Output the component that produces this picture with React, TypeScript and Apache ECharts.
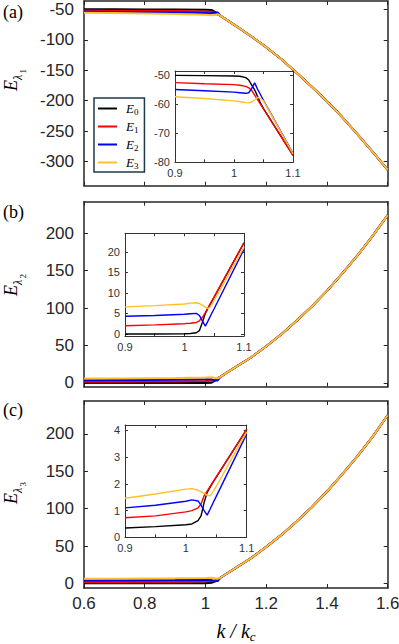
import React, { useEffect, useRef } from 'react';
import * as echarts from 'echarts';

// ---------- data ----------
const seriesNames = ['E0', 'E1', 'E2', 'E3'];
const seriesColors = ['#000000', '#ff0000', '#0000ff', '#ffc125'];

// main panels: flat part (per series) + common branch after k ~ 1.05
const kHead = [0.6, 0.7, 0.8, 0.9, 1.0, 1.02, 1.03, 1.04];
const kTail = [1.05, 1.1, 1.15, 1.2, 1.25, 1.3, 1.35, 1.4, 1.45, 1.5, 1.55, 1.6];

const aHeadE0 = [-49.4, -49.6, -49.8, -50.0, -50.25, -50.8, -53.4, -57.3];
const aHeadE1 = [-51.6, -51.9, -52.2, -52.5, -53.2, -53.8, -55.2, -58.4];
const aHeadE2 = [-53.4, -53.9, -54.4, -54.9, -55.8, -56.2, -54.5, -54.8];
const aHeadE3 = [-55.2, -55.9, -56.6, -57.4, -58.8, -59.4, -59.2, -57.6];
const aTail = [-60.5, -77, -94, -112, -132, -154, -177, -201, -227, -255, -284, -314];

const bHeadE0 = [0.0, 0.0, 0.0, 0.0, 0.05, 0.3, 2.8, 6.4];
const bHeadE1 = [1.5, 1.7, 1.85, 2.0, 2.5, 2.8, 4.0, 6.5];
const bHeadE2 = [3.7, 3.9, 4.1, 4.3, 4.8, 5.0, 3.2, 3.3];
const bHeadE3 = [5.9, 6.1, 6.4, 6.6, 7.3, 7.6, 7.0, 6.2];
const bTail = [8.5, 21.5, 34, 49, 65, 83, 102, 123, 146, 170, 196, 224];

const cHeadE0 = [0.3, 0.3, 0.4, 0.4, 0.5, 0.9, 2.5, 5.0];
const cHeadE1 = [1.9, 2.1, 2.3, 2.5, 2.9, 3.2, 4.2, 6.0];
const cHeadE2 = [4.1, 4.3, 4.5, 4.7, 5.1, 4.6, 3.0, 3.4];
const cHeadE3 = [6.3, 6.5, 6.7, 6.9, 7.4, 7.6, 7.1, 6.4];
const cTail = [8.0, 21, 34, 49, 65, 83, 102, 123, 146, 170, 196, 225];

// insets (zoom 0.9 .. 1.1)
const kInset = [0.9, 0.95, 1.0, 1.01, 1.02, 1.025, 1.03, 1.035, 1.04, 1.045, 1.05, 1.1];

const insAE0 = [-50.0, -50.1, -50.25, -50.3, -50.8, -51.6, -53.4, -55.0, -57.3, -59.6, -61.5, -77.6];
const insAE1 = [-52.5, -52.9, -53.2, -53.4, -53.8, -54.3, -55.2, -56.8, -58.4, -60.0, -61.6, -77.6];
const insAE2 = [-54.9, -55.3, -55.8, -56.0, -56.2, -56.0, -54.5, -52.6, -54.8, -56.7, -58.6, -76.9];
const insAE3 = [-57.4, -58.0, -58.8, -59.1, -59.4, -59.5, -59.2, -58.5, -57.6, -58.0, -58.8, -77.1];

const insBE0 = [0.0, 0.0, 0.05, 0.1, 0.3, 0.8, 2.8, 5.0, 6.4, 7.7, 9.0, 22.2];
const insBE1 = [2.0, 2.2, 2.5, 2.6, 2.8, 3.2, 4.0, 5.2, 6.5, 7.8, 9.1, 22.2];
const insBE2 = [4.3, 4.5, 4.8, 4.9, 5.0, 4.5, 3.2, 1.9, 3.3, 4.8, 6.2, 20.6];
const insBE3 = [6.6, 6.9, 7.3, 7.5, 7.6, 7.4, 7.0, 6.5, 6.2, 6.8, 8.2, 21.1];

const insCE0 = [0.35, 0.40, 0.47, 0.50, 0.62, 0.8, 1.3, 1.68, 1.88, 2.07, 2.25, 4.04];
const insCE1 = [0.73, 0.8, 0.95, 1.0, 1.1, 1.25, 1.55, 1.73, 1.9, 2.08, 2.26, 4.04];
const insCE2 = [1.1, 1.2, 1.35, 1.4, 1.36, 1.2, 1.0, 0.83, 1.06, 1.3, 1.53, 3.87];
const insCE3 = [1.46, 1.62, 1.8, 1.82, 1.76, 1.7, 1.65, 1.57, 1.55, 1.72, 1.9, 3.94];

// tick values
const mainXTicks = [0.6, 0.8, 1, 1.2, 1.4, 1.6];
const aYTicks = [-300, -250, -200, -150, -100, -50];
const bcYTicks = [0, 50, 100, 150, 200];
const insetXTicks = [0.9, 0.95, 1, 1.05, 1.1];
const insetXLabels = [0.9, 1, 1.1];
const insAYTicks = [-80, -70, -60, -50];
const insBYTicks = [0, 5, 10, 15, 20];
const insCYTicks = [0, 1, 2, 3, 4];

// ---------- helpers ----------
const pairs = (ks: number[], vs: number[]) => ks.map((k, i) => [k, vs[i]]);

type Panel = {
  rect: { left: number; top: number; width: number; height: number };
  xMin: number; xMax: number; xTicks: number[]; xLabels: number[] | null;
  yMin: number; yMax: number; yTicks: number[];
  font: number; lineW: number; tickLen: number; z: number;
  xMargin: number; yMargin: number; axisColor: string;
  data: number[][][];
  lineWidth: number;
};

const SANS = "'Liberation Sans', Arial, Helvetica, sans-serif";
const SERIF = "'Liberation Serif', 'Times New Roman', serif";

export default function App() {
  const ref = useRef<HTMLDivElement>(null);

  useEffect(() => {
    document.body.style.margin = '0';
    if (!ref.current) return;
    const chart = echarts.init(ref.current, null, { renderer: 'svg' });

    const mainHeads = [
      [aHeadE0, aHeadE1, aHeadE2, aHeadE3],
      [bHeadE0, bHeadE1, bHeadE2, bHeadE3],
      [cHeadE0, cHeadE1, cHeadE2, cHeadE3],
    ];
    const mainTails = [aTail, bTail, cTail];
    const mainData = mainHeads.map((heads, p) =>
      heads.map((h) => pairs(kHead, h).concat(pairs(kTail, mainTails[p])))
    );
    const insetData = [
      [insAE0, insAE1, insAE2, insAE3],
      [insBE0, insBE1, insBE2, insBE3],
      [insCE0, insCE1, insCE2, insCE3],
    ].map((arr) => arr.map((v) => pairs(kInset, v)));

    const mainBase = {
      xMin: 0.6, xMax: 1.6, xTicks: mainXTicks,
      font: 17, lineW: 1.5, tickLen: 4, z: 0, xMargin: 7, yMargin: 10,
      axisColor: '#262626', lineWidth: 2,
    };
    const insetBase = {
      xMin: 0.9, xMax: 1.1, xTicks: insetXTicks, xLabels: insetXLabels,
      font: 11, lineW: 1, tickLen: 3, z: 3, xMargin: 5, yMargin: 5,
      axisColor: '#333333', lineWidth: 1.4,
    };

    const panels: Panel[] = [
      { ...mainBase, rect: { left: 84, top: 1, width: 303.7, height: 184.7 }, xLabels: null,
        yMin: -340, yMax: -36, yTicks: aYTicks, data: mainData[0] },
      { ...mainBase, rect: { left: 84, top: 201.7, width: 303.7, height: 185 }, xLabels: null,
        yMin: -5, yMax: 242, yTicks: bcYTicks, data: mainData[1] },
      { ...mainBase, rect: { left: 84, top: 401, width: 303.7, height: 187 }, xLabels: mainXTicks,
        yMin: -6, yMax: 244, yTicks: bcYTicks, data: mainData[2] },
      { ...insetBase, rect: { left: 175, top: 71, width: 118, height: 91.3 },
        yMin: -80, yMax: -48.5, yTicks: insAYTicks, data: insetData[0] },
      { ...insetBase, rect: { left: 125, top: 233.3, width: 119, height: 102.7 },
        yMin: -0.5, yMax: 24.5, yTicks: insBYTicks, data: insetData[1] },
      { ...insetBase, rect: { left: 125, top: 425, width: 121.7, height: 112.3 },
        yMin: 0, yMax: 4.2, yTicks: insCYTicks, data: insetData[2] },
    ];

    const grid: any[] = [];
    const xAxis: any[] = [];
    const yAxis: any[] = [];
    const series: any[] = [];

    panels.forEach((p, g) => {
      grid.push({
        ...p.rect,
        z: p.z,
        show: true,
        backgroundColor: '#ffffff',
        borderWidth: 0,
        containLabel: false,
        outerBoundsMode: 'none',
      });
      const axisLine = { show: true, onZero: false, lineStyle: { color: p.axisColor, width: p.lineW } };
      const axisTick = (vals: number[]) => ({
        show: true, inside: true, length: p.tickLen, customValues: vals,
        lineStyle: { color: p.axisColor, width: 1 },
      });
      const labelStyle = { color: p.axisColor, fontSize: p.font, fontFamily: SANS };
      ['bottom', 'top'].forEach((pos, j) => {
        xAxis.push({
          type: 'value', gridIndex: g, position: pos, min: p.xMin, max: p.xMax, z: p.z + 1,
          axisLine, axisTick: axisTick(p.xTicks), splitLine: { show: false },
          axisLabel: j === 0 && p.xLabels
            ? { show: true, customValues: p.xLabels, margin: p.xMargin, ...labelStyle }
            : { show: false },
        });
      });
      ['left', 'right'].forEach((pos, j) => {
        yAxis.push({
          type: 'value', gridIndex: g, position: pos, min: p.yMin, max: p.yMax, z: p.z + 1,
          axisLine, axisTick: axisTick(p.yTicks), splitLine: { show: false },
          axisLabel: j === 0
            ? { show: true, customValues: p.yTicks, margin: p.yMargin, ...labelStyle }
            : { show: false },
        });
      });
      p.data.forEach((d, s) => {
        series.push({
          type: 'line', name: seriesNames[s], data: d,
          xAxisIndex: 2 * g, yAxisIndex: 2 * g,
          showSymbol: false, symbol: 'none', z: p.z + 2,
          lineStyle: { color: seriesColors[s], width: p.lineWidth },
          itemStyle: { color: seriesColors[s] },
          emphasis: { disabled: true },
        });
      });
    });

    const yTitle = (x: number, y: number, digit: string) => ({
      type: 'group', x, y, rotation: Math.PI / 2,
      children: [
        { type: 'text', x: 0, y: 0, style: { text: 'E', fontFamily: SERIF, fontStyle: 'italic', fontSize: 18, fill: '#000', verticalAlign: 'bottom' } },
        { type: 'text', x: 11, y: 4, style: { text: 'λ', fontFamily: SERIF, fontStyle: 'italic', fontSize: 12, fill: '#000', verticalAlign: 'bottom' } },
        { type: 'text', x: 17.5, y: 7, style: { text: digit, fontFamily: SERIF, fontSize: 9, fill: '#000', verticalAlign: 'bottom' } },
      ],
    });
    const panelLabel = (y: number, t: string) => ({
      type: 'text', x: 3, y,
      style: { text: t, fontFamily: SERIF, fontSize: 18, fill: '#000', verticalAlign: 'middle' },
    });

    chart.setOption({
      animation: false,
      grid, xAxis, yAxis, series,
      legend: {
        data: seriesNames,
        orient: 'vertical',
        left: 94, top: 98,
        z: 10,
        backgroundColor: '#ffffff',
        borderColor: '#1f3a48',
        borderWidth: 1.5,
        borderRadius: 0,
        padding: [3, 6, 2, 4],
        itemGap: 3,
        itemWidth: 19,
        itemHeight: 2,
        icon: 'rect',
        selectedMode: false,
        formatter: (name: string) => `{e|E}{s|${name.slice(1)}}`,
        textStyle: {
          padding: [0, 0, 0, 4],
          rich: {
            e: { fontFamily: SERIF, fontStyle: 'italic', fontSize: 13, lineHeight: 14, color: '#000' },
            s: { fontFamily: SERIF, fontSize: 9, lineHeight: 9, padding: [6, 0, 0, 0], color: '#000' },
          },
        },
      },
      graphic: [
        panelLabel(12, '(a)'),
        panelLabel(212, '(b)'),
        panelLabel(410, '(c)'),
        yTitle(20, 91, '1'),
        yTitle(20, 296, '2'),
        yTitle(20, 504, '3'),
        {
          type: 'text', x: 236, y: 631,
          style: {
            text: '{i|k / k}{s|c}', align: 'center', verticalAlign: 'middle',
            rich: {
              i: { fontFamily: SERIF, fontStyle: 'italic', fontSize: 20, lineHeight: 20, color: '#000' },
              s: { fontFamily: SERIF, fontStyle: 'italic', fontSize: 13, lineHeight: 13, padding: [10, 0, 0, 0], color: '#000' },
            },
          },
        },
      ],
    });

    return () => chart.dispose();
  }, []);

  return <div ref={ref} style={{ width: 399, height: 644 }} />;
}
